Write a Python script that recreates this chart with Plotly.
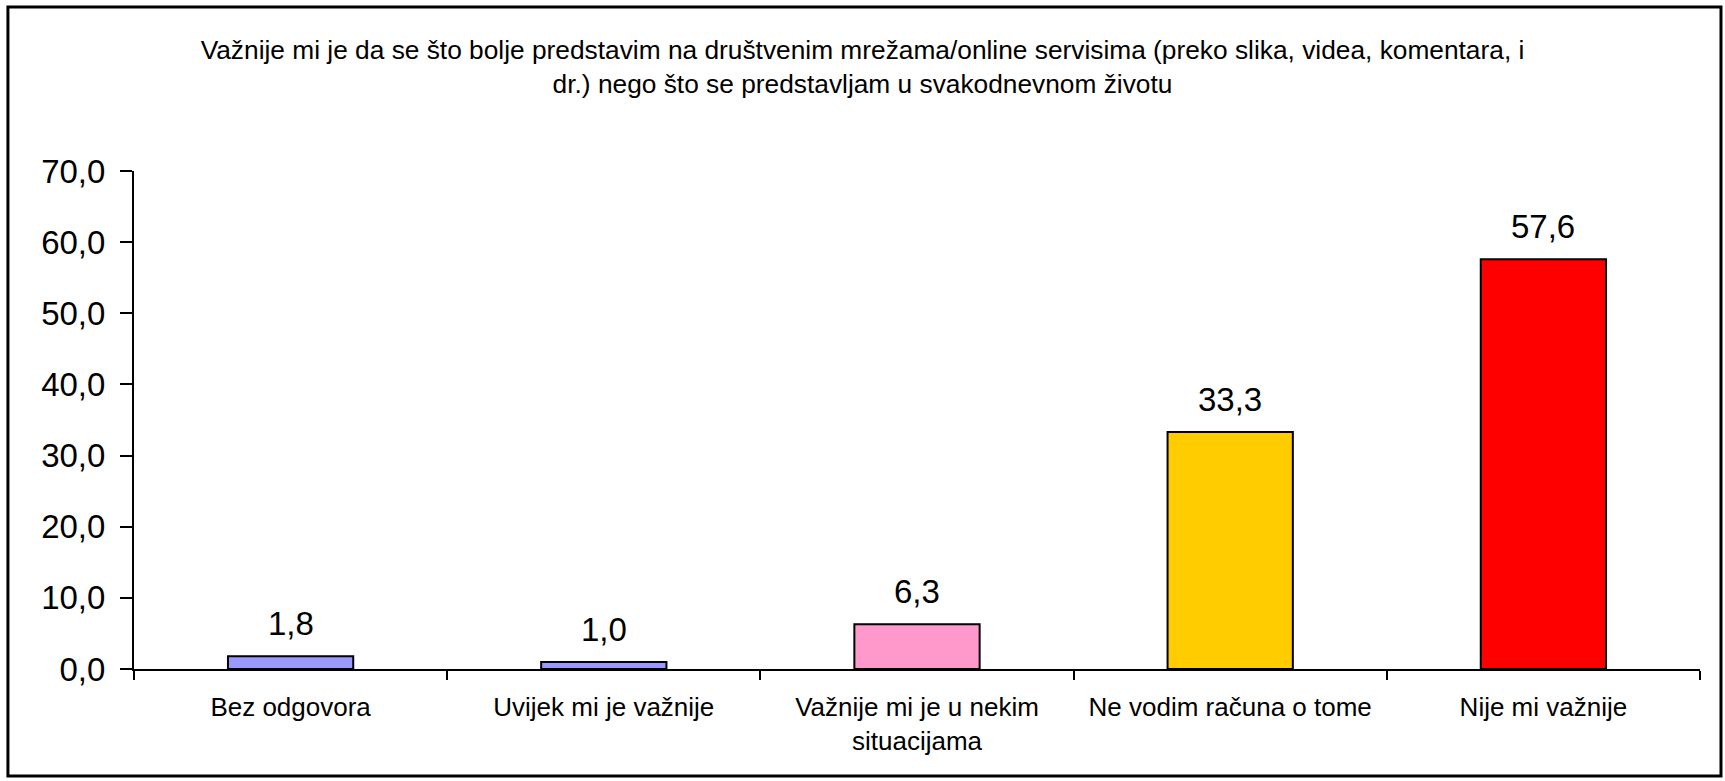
import plotly.graph_objects as go

categories = ["Bez odgovora", "Uvijek mi je važnije", "Važnije mi je u nekim<br>situacijama",
              "Ne vodim računa o tome", "Nije mi važnije"]
values = [1.8, 1.0, 6.3, 33.3, 57.6]
bar_colors = ["#9999FF", "#9999FF", "#FF99CC", "#FFCC00", "#FF0000"]
y_ticks = [0, 10, 20, 30, 40, 50, 60, 70]
title_text = ("Važnije mi je da se što bolje predstavim na društvenim mrežama/online servisima "
              "(preko slika, videa, komentara, i<br>dr.) nego što se predstavljam u svakodnevnom životu")

FONT = "Liberation Sans, Arial, sans-serif"

fig = go.Figure()
fig.add_trace(go.Bar(
    x=categories, y=values,
    marker=dict(color=bar_colors, line=dict(color="black", width=2)),
    width=0.4,
    hoverinfo="skip",
))

for c, v in zip(categories, values):
    fig.add_annotation(
        x=c, y=v, xref="x", yref="y",
        text=f"{v:.1f}".replace(".", ","),
        showarrow=False, yanchor="bottom", yshift=12,
        font=dict(family=FONT, size=33, color="black"),
    )

fig.update_layout(
    width=1725, height=781,
    margin=dict(l=134, r=25, t=171, b=112),
    paper_bgcolor="white", plot_bgcolor="white",
    separators=", ",
    showlegend=False,
    font=dict(family=FONT, color="black"),
    title=dict(text=title_text, x=0.5, xanchor="center", y=0.925, yanchor="top",
               yref="container", font=dict(family=FONT, size=26.3, color="black")),
    bargap=0.6,
)

fig.update_xaxes(
    type="category",
    showline=True, linecolor="black", linewidth=2,
    ticks="outside", tickson="boundaries", ticklen=9, tickwidth=2, tickcolor="black",
    tickfont=dict(family=FONT, size=26, color="black"),
    ticklabelstandoff=14,
    showgrid=False, zeroline=False,
)
fig.update_yaxes(
    range=[0, 70], tickvals=y_ticks, tickformat=".1f",
    showline=True, linecolor="black", linewidth=2,
    ticks="outside", ticklen=12, tickwidth=2, tickcolor="black",
    tickfont=dict(family=FONT, size=33, color="black"),
    ticklabelstandoff=8,
    showgrid=False, zeroline=False,
)

# outer chart frame
fig.add_shape(type="rect", xref="paper", yref="paper",
              x0=-0.0805, x1=1.0134, y0=-0.2149, y1=1.3293,
              line=dict(color="black", width=3), fillcolor="rgba(0,0,0,0)", layer="below")

fig.write_html("out.html", config={"displayModeBar": False},
               post_script="document.body.style.margin='0';document.body.style.overflow='hidden';")
